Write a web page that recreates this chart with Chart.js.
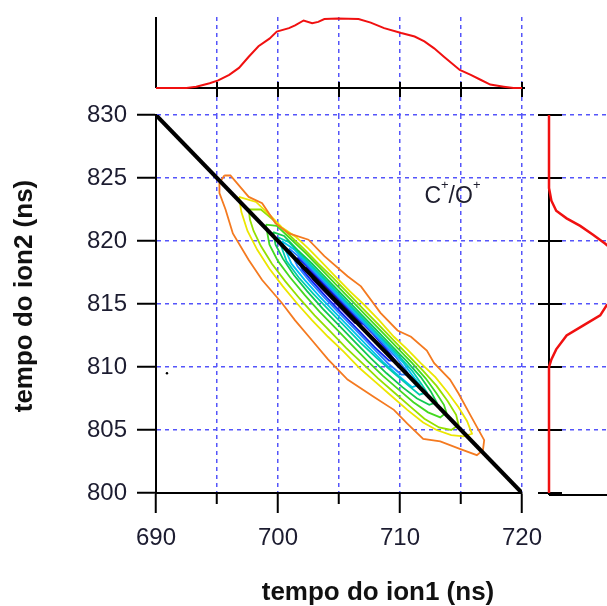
<!DOCTYPE html>
<html>
<head>
<meta charset="utf-8">
<script src="https://cdn.jsdelivr.net/npm/chart.js@4.4.1/dist/chart.umd.min.js"></script>
<style>
html, body { margin: 0; padding: 0; background: #fff; }
#wrap { position: relative; width: 607px; height: 606px; overflow: hidden; }
canvas { position: absolute; top: 0; }
</style>
</head>
<body>
<div id="wrap">
  <canvas id="main" width="607" height="606" style="left:0"></canvas>
  <canvas id="top" width="607" height="115" style="left:0"></canvas>
  <canvas id="side" width="120" height="606" style="left:522px"></canvas>
</div>
<script>
// axis ranges and ticks
const ion1Range = [690, 720];
const ion2Range = [800, 830];
const ion1Ticks = [690, 695, 700, 705, 710, 715, 720];
const ion1Labels = [690, 700, 710, 720];
const ion2Ticks = [800, 805, 810, 815, 820, 825, 830];

// kinematic line ion1 + ion2 = const
const diagonal = [[690, 830], [720, 800]];
const strayDot = [[690.9, 809.5]];
const labelPos = [712, 823];

// contour levels, outer to inner (ion1, ion2)
const level1 = [[695.6,825.2],[696.1,825.2],[697.6,823.5],[698.7,823.0],[699.8,821.4],[700.9,820.6],[702.5,820.1],[703.8,818.8],[705.7,817.2],[706.8,816.4],[708.4,814.3],[709.8,812.9],[710.9,812.4],[712.2,811.3],[712.8,810.3],[714.1,809.0],[714.8,807.9],[715.7,806.3],[716.9,804.2],[716.8,803.4],[716.3,803.0],[714.9,803.5],[713.3,804.1],[711.9,804.3],[710.6,805.5],[709.5,806.6],[707.9,807.6],[705.7,809.0],[704.1,810.6],[702.8,812.1],[701.4,813.7],[700.3,815.1],[698.7,816.9],[697.6,818.5],[696.3,820.6],[695.7,822.5],[695.2,823.8],[695.2,824.6]];
const level2 = [[696.8,823.5],[698.2,823.1],[699.4,822.0],[700.3,821.1],[701.5,820.3],[702.5,819.4],[703.6,818.3],[704.6,817.3],[705.9,816.0],[707.1,814.9],[708.3,813.7],[709.5,812.4],[710.6,811.4],[711.7,810.3],[712.9,809.2],[713.9,808.0],[714.8,806.8],[715.5,805.7],[715.9,804.7],[715.2,804.5],[714.2,804.6],[713.0,805.0],[711.9,805.6],[710.6,806.6],[709.3,807.7],[708.0,808.8],[706.7,809.9],[705.4,811.2],[704.1,812.4],[702.8,813.7],[701.6,815.0],[700.4,816.4],[699.3,817.8],[698.3,819.3],[697.5,820.8],[697.0,822.3]];
const level3 = [[697.6,822.5],[698.6,822.5],[699.7,821.6],[700.9,820.5],[702.1,819.4],[703.3,818.2],[704.5,817.1],[705.8,815.8],[707.0,814.6],[708.3,813.3],[709.5,812.1],[710.7,810.9],[711.9,809.7],[713.0,808.5],[713.9,807.3],[714.6,806.2],[714.8,805.4],[714.2,805.0],[713.2,805.2],[712.0,805.9],[710.8,806.9],[709.5,808.0],[708.2,809.1],[706.9,810.3],[705.6,811.5],[704.3,812.8],[703.0,814.1],[701.8,815.4],[700.6,816.8],[699.5,818.2],[698.6,819.6],[698.0,820.8],[697.7,821.7]];
const level4 = [[699.0,821.3],[699.9,821.2],[701.0,820.2],[702.2,819.1],[703.4,817.9],[704.7,816.6],[706.0,815.3],[707.2,814.1],[708.5,812.8],[709.8,811.5],[711.0,810.3],[712.1,809.1],[713.0,807.9],[713.6,807.0],[713.8,806.4],[713.3,806.0],[712.3,806.4],[711.1,807.2],[709.9,808.2],[708.6,809.3],[707.3,810.5],[706.0,811.8],[704.7,813.1],[703.4,814.4],[702.2,815.7],[701.0,817.1],[700.0,818.4],[699.3,819.7]];
const level5 = [[699.6,820.7],[700.5,820.4],[701.6,819.3],[702.8,818.2],[704.1,816.9],[705.4,815.6],[706.7,814.3],[708.0,813.0],[709.3,811.7],[710.6,810.4],[711.7,809.2],[712.5,808.1],[713.0,807.2],[712.4,807.0],[711.4,807.5],[710.2,808.4],[708.9,809.5],[707.6,810.7],[706.3,812.0],[705.0,813.3],[703.7,814.6],[702.4,816.0],[701.3,817.3],[700.4,818.6],[699.8,819.7]];
const level6 = [[700.0,820.3],[700.9,819.9],[702.0,818.8],[703.3,817.5],[704.6,816.2],[705.9,814.9],[707.2,813.6],[708.5,812.3],[709.8,811.0],[711.0,809.7],[711.8,808.6],[712.2,808.0],[711.6,807.8],[710.6,808.6],[709.4,809.6],[708.1,810.7],[706.8,811.9],[705.5,813.2],[704.2,814.5],[702.9,815.8],[701.7,817.1],[700.7,818.4]];
const level7 = [[700.3,820.0],[701.3,819.35],[702.5,818.15],[703.8,816.85],[705.1,815.55],[706.4,814.25],[707.7,812.95],[709.0,811.65],[710.3,810.3],[711.2,809.1],[711.6,808.6],[711.0,808.4],[709.9,809.3],[708.6,810.4],[707.3,811.7],[706.0,813.0],[704.7,814.3],[703.4,815.6],[702.2,816.9],[701.1,818.2]];
const level8 = [[700.9,819.4],[701.9,818.6],[703.2,817.3],[704.5,816.0],[705.8,814.7],[707.1,813.4],[708.4,812.1],[709.6,810.85],[710.5,809.75],[710.7,809.4],[710.1,809.4],[709.0,810.3],[707.7,811.6],[706.4,812.9],[705.1,814.2],[703.8,815.5],[702.6,816.8],[701.6,818.0]];
const level9 = [[701.6,818.7],[702.6,817.8],[703.9,816.5],[705.2,815.2],[706.5,813.9],[707.8,812.6],[708.9,811.4],[709.6,810.5],[709.1,810.5],[707.9,811.6],[706.6,812.9],[705.3,814.2],[704.0,815.5],[702.8,816.8],[702.0,817.7]];
const level10 = [[702.3,817.9],[703.4,816.9],[704.6,815.7],[705.8,814.5],[706.8,813.45],[706.3,813.5],[705.2,814.6],[704.0,815.8],[702.9,816.9]];

// projection on ion1 (top) and ion2 (right), normalised counts
const topX = [690, 692.5, 693.3, 694.4, 695.1, 696.0, 696.8, 697.6, 698.4, 699.3, 699.9, 700.9, 701.4, 702.1, 702.8, 703.3, 703.8, 704.9, 706.6, 707.6, 708.7, 710.1, 711.2, 712.0, 712.8, 713.6, 714.9, 715.8, 716.6, 717.4, 718.5, 719.3, 720];
const topCounts = [0, 0, 0.02, 0.07, 0.11, 0.19, 0.29, 0.45, 0.6, 0.71, 0.81, 0.86, 0.9, 0.97, 0.93, 0.95, 0.99, 1.0, 0.99, 0.94, 0.86, 0.79, 0.74, 0.67, 0.57, 0.45, 0.26, 0.19, 0.12, 0.05, 0.02, 0, 0];
const sideY = [830, 824.2, 823.2, 822.4, 821.8, 821.2, 820.5, 819.8, 819, 818, 817, 816, 815.5, 814.9, 814.1, 813.3, 812.5, 811.4, 810.6, 810, 800];
const sideCounts = [0, 0, 0.03, 0.09, 0.22, 0.39, 0.55, 0.70, 0.85, 0.97, 1.0, 0.95, 0.85, 0.72, 0.64, 0.43, 0.22, 0.09, 0.03, 0, 0];

const FONT = '"Liberation Sans", Arial, sans-serif';
Chart.defaults.font.family = FONT;
const gridBlue = 'rgb(85,85,250)';
const levelColors = ['#f47a20', '#ece600', '#94e000', '#44d820', '#10c850', '#00ccb0', '#00c0f0', '#2a80ff', '#1020f0', '#200090'];
const levels = [level1, level2, level3, level4, level5, level6, level7, level8, level9, level10];

const toPts = arr => arr.map(p => ({x: p[0], y: p[1]}));
const hideAt = v => ctx => (ctx.tick && Math.round(ctx.tick.value) === v) ? 'rgba(0,0,0,0)' : gridBlue;
const noUI = {legend: {display: false}, tooltip: {enabled: false}};

function line(ctx, x1, y1, x2, y2) {
  ctx.beginPath(); ctx.moveTo(x1, y1); ctx.lineTo(x2, y2); ctx.stroke();
}

const contourSets = levels.map((lv, i) => ({
  data: toPts(lv.concat([lv[0]])),
  showLine: true, pointRadius: 0, borderWidth: 1.8, borderColor: levelColors[i]
}));

const mainDecor = {
  id: 'mainDecor',
  afterDatasetsDraw(chart) {
    const {ctx, scales: {x, y}} = chart;
    ctx.save();
    let px = x.getPixelForValue(labelPos[0]);
    const py = y.getPixelForValue(labelPos[1]);
    ctx.fillStyle = '#1e1e2e';
    ctx.textAlign = 'left';
    ctx.textBaseline = 'alphabetic';
    [['C', 23, 0], ['+', 13, -14], ['/O', 23, 0], ['+', 13, -14]].forEach(([t, s, dy]) => {
      ctx.font = s + 'px ' + FONT;
      ctx.fillText(t, px, py + dy);
      px += ctx.measureText(t).width;
    });
    ctx.restore();
  },
  afterDraw(chart) {
    const ctx = chart.ctx;
    ctx.save();
    ctx.fillStyle = '#111';
    ctx.font = 'bold 26px ' + FONT;
    ctx.textAlign = 'center';
    ctx.textBaseline = 'middle';
    ctx.fillText('tempo do ion1 (ns)', 378, 593);
    ctx.translate(25, 296);
    ctx.rotate(-Math.PI / 2);
    ctx.fillText('tempo do ion2 (ns)', 0, 0);
    ctx.restore();
  }
};

new Chart(document.getElementById('main'), {
  type: 'scatter',
  data: {
    datasets: [
      {data: toPts(diagonal), showLine: true, pointRadius: 0, borderWidth: 4, borderColor: '#000'},
      {data: toPts(strayDot), pointRadius: 1.2, backgroundColor: '#000', borderWidth: 0},
      ...contourSets
    ]
  },
  options: {
    responsive: false, animation: false, devicePixelRatio: 1,
    layout: {padding: {top: 115, right: 85, bottom: 0, left: 0}},
    plugins: noUI,
    scales: {
      x: {
        type: 'linear', min: ion1Range[0], max: ion1Range[1],
        afterFit: s => { s.height = 113; },
        ticks: {
          stepSize: 5, autoSkip: false, maxRotation: 0, padding: 11, color: '#1c1c30', font: {size: 24},
          callback: v => ion1Labels.includes(Math.round(v)) ? String(v) : ''
        },
        grid: {
          color: hideAt(690), lineWidth: 1.5, tickColor: '#000', tickWidth: 2, tickLength: 20,
          tickBorderDash: ctx => (ctx.tick && ion1Labels.includes(Math.round(ctx.tick.value))) ? [] : [10, 40]
        },
        border: {color: '#000', width: 2, dash: [4, 4]}
      },
      y: {
        type: 'linear', min: ion2Range[0], max: ion2Range[1],
        afterFit: s => { s.width = 156; },
        ticks: {stepSize: 5, padding: 10, color: '#1c1c30', font: {size: 24}},
        grid: {color: hideAt(800), lineWidth: 1.5, tickColor: '#000', tickWidth: 2, tickLength: 19},
        border: {color: '#000', width: 2, dash: [4, 4]}
      }
    }
  },
  plugins: [mainDecor]
});

// top projection
const topAxes = {
  id: 'topAxes',
  beforeDatasetsDraw(chart) {
    const {ctx, scales: {x, y}} = chart;
    const y0 = y.getPixelForValue(0);
    const x0 = x.getPixelForValue(ion1Range[0]);
    ctx.save();
    ctx.strokeStyle = '#000';
    ctx.lineWidth = 2;
    line(ctx, x0, y.getPixelForValue(y.max), x0, y0);
    line(ctx, x0, y0, x.getPixelForValue(ion1Range[1]) + 3, y0);
    ion1Ticks.slice(1).forEach(v => {
      const px = x.getPixelForValue(v);
      line(ctx, px, y0 - 6, px, y0 + 9);
    });
    ctx.restore();
  }
};

new Chart(document.getElementById('top'), {
  type: 'scatter',
  data: {
    datasets: [{
      data: topX.map((v, i) => ({x: v, y: topCounts[i]})),
      showLine: true, pointRadius: 0, borderWidth: 2, borderColor: '#f01010'
    }]
  },
  options: {
    responsive: false, animation: false, devicePixelRatio: 1,
    layout: {padding: {top: 17, left: 156, right: 85, bottom: 0}},
    plugins: noUI,
    scales: {
      x: {
        type: 'linear', min: ion1Range[0], max: ion1Range[1],
        afterFit: s => { s.height = 0; },
        ticks: {display: false, stepSize: 5},
        grid: {drawTicks: false, color: hideAt(690), lineWidth: 1.5},
        border: {display: false, dash: [4, 4]}
      },
      y: {display: false, min: -0.386, max: 1.02}
    }
  },
  plugins: [topAxes]
});

// right projection
const sideAxes = {
  id: 'sideAxes',
  beforeDatasetsDraw(chart) {
    const {ctx, scales: {x, y}, chartArea} = chart;
    const x0 = x.getPixelForValue(0);
    const yb = y.getPixelForValue(ion2Range[0]) + 2;
    ctx.save();
    ctx.strokeStyle = '#000';
    ctx.lineWidth = 2;
    line(ctx, x0, y.getPixelForValue(ion2Range[1]), x0, yb);
    line(ctx, x0, yb, chartArea.right, yb);
    ion2Ticks.forEach(v => {
      const py = y.getPixelForValue(v);
      line(ctx, x0 - 11, py, x0 + 13, py);
    });
    ctx.restore();
  }
};

new Chart(document.getElementById('side'), {
  type: 'scatter',
  data: {
    datasets: [{
      data: sideY.map((v, i) => ({x: sideCounts[i], y: v})),
      showLine: true, pointRadius: 0, borderWidth: 2.5, borderColor: '#f01010', clip: false
    }]
  },
  options: {
    responsive: false, animation: false, devicePixelRatio: 1,
    layout: {padding: {top: 115, bottom: 113, left: 0, right: 0}},
    plugins: noUI,
    scales: {
      x: {display: false, min: -0.3375, max: 1.1625},
      y: {
        type: 'linear', min: ion2Range[0], max: ion2Range[1],
        afterFit: s => { s.width = 0; },
        ticks: {display: false, stepSize: 5},
        grid: {drawTicks: false, color: hideAt(800), lineWidth: 1.5},
        border: {display: false, dash: [4, 4]}
      }
    }
  },
  plugins: [sideAxes]
});
</script>
</body>
</html>
